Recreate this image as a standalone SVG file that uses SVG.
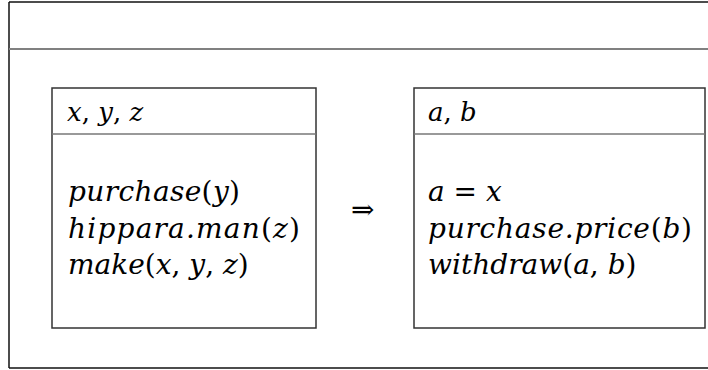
<svg xmlns="http://www.w3.org/2000/svg" width="708" height="370" viewBox="0 0 708 370">
<style>
.frame{stroke:#111;stroke-width:1.5;fill:none}
.hdr{stroke:#808080;stroke-width:2;fill:none}
.box{stroke:#333;stroke-width:1.5;fill:#fff}
.div{stroke:#777;stroke-width:1.5}
.m{font-family:"DejaVu Serif","Liberation Serif",serif;font-style:italic;font-size:28px;fill:#000}
.h{font-size:26px}
.r{font-style:normal}
</style>
<g id="frame">
<line class="frame" x1="9" y1="2" x2="708" y2="2"/>
<line class="frame" x1="9" y1="2" x2="9" y2="368"/>
<line class="frame" x1="9" y1="368" x2="708" y2="368"/>
<line class="hdr" x1="9" y1="49" x2="708" y2="49"/>
</g>
<g id="node-left">
<rect class="box" x="52" y="88" width="264" height="240"/>
<line class="div" x1="52" y1="134" x2="316" y2="134"/>
<text class="m h" x="67" y="121">x<tspan class="r">,</tspan> y<tspan class="r">,</tspan> z</text>
<text class="m" x="68" y="201" textLength="172" lengthAdjust="spacing">purchase<tspan class="r">(</tspan>y<tspan class="r">)</tspan></text>
<text class="m" x="68" y="238" textLength="232" lengthAdjust="spacing">hippara.man<tspan class="r">(</tspan>z<tspan class="r">)</tspan></text>
<text class="m" x="68" y="274">make<tspan class="r">(</tspan>x<tspan class="r">,</tspan> y<tspan class="r">,</tspan> z<tspan class="r">)</tspan></text>
</g>
<g id="connectors">
<text class="m r" x="351" y="219" font-size="32" font-style="normal">⇒</text>
</g>
<g id="node-right">
<rect class="box" x="414" y="88" width="291" height="240"/>
<line class="div" x1="414" y1="134" x2="705" y2="134"/>
<text class="m h" x="428" y="121">a<tspan class="r">,</tspan> b</text>
<text class="m" x="428" y="201">a <tspan class="r">=</tspan> x</text>
<text class="m" x="428" y="238" textLength="264" lengthAdjust="spacing">purchase.price<tspan class="r">(</tspan>b<tspan class="r">)</tspan></text>
<text class="m" x="428" y="274">withdraw<tspan class="r">(</tspan>a<tspan class="r">,</tspan> b<tspan class="r">)</tspan></text>
</g>
</svg>
